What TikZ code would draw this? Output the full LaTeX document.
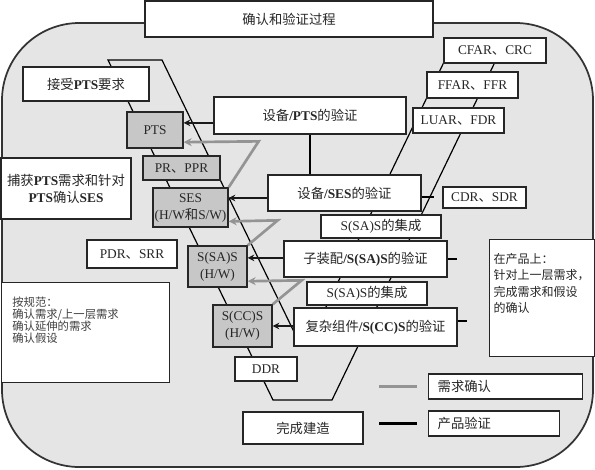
\documentclass[tikz,border=0pt]{standalone}
\usepackage{fontspec}
\setmainfont{Liberation Serif}
\newfontfamily\cjk{Noto Sans CJK SC}
\newcommand{\zh}[1]{{\cjk #1}}
\usetikzlibrary{arrows.meta}

\begin{document}
\begin{tikzpicture}[x=0.75pt,y=-0.75pt,
  wbox/.style={draw=black!85,line width=1pt,fill=white,inner sep=1pt,text=black!85,
    font=\fontsize{10}{12.75}\selectfont,align=center},
  gbox/.style={wbox,fill=black!22},
  pv/.style={line width=1.7pt,black!90,-{Stealth[length=5pt,width=5pt]}},
  rv/.style={line width=2pt,black!42,-{Stealth[length=6pt,width=6pt]}}]
\useasboundingbox (0,0) rectangle (595,469);
\draw[draw=black!80,line width=1.3pt,fill=black!10,rounded corners=58pt] (2,23) rectangle (593,467);
% the V
\draw[line width=0.9pt] (108,60)--(273,400)--(332,400)--(495,62)--(444,62)--(312,336)--(296,336)--(162,60)--cycle;

\node[wbox,minimum width=216pt,minimum height=27pt] (title) at (289,19) {\zh{确认和验证过程}};
\node[wbox,minimum width=94.5pt,minimum height=25.5pt] (accept) at (86,84) {\zh{接受}\textbf{PTS}\zh{要求}};
\node[gbox,minimum width=42pt,minimum height=27pt] (pts) at (155,130) {PTS};
\node[wbox,minimum width=144pt,minimum height=27.75pt] (vpts) at (310,115.5) {\zh{设备}\textbf{/PTS}\zh{的验证}};
\node[wbox,minimum width=76.5pt,minimum height=18.75pt] (cfar) at (495,50.5) {CFAR\zh{、}CRC};
\node[wbox,minimum width=68.25pt,minimum height=19.5pt] (ffar) at (472.5,85) {FFAR\zh{、}FFR};
\node[wbox,minimum width=68.25pt,minimum height=18.75pt] (luar) at (458.5,120.5) {LUAR\zh{、}FDR};
\node[gbox,minimum width=57.75pt,minimum height=18pt] (pr) at (181.5,168) {PR\zh{、}PPR};
\node[gbox,minimum width=56.25pt,minimum height=29.25pt] (ses) at (190.5,207.5) {SES\\(H/W\zh{和}S/W)};
\node[wbox,minimum width=97.5pt,minimum height=45.75pt] (capture) at (66,188.5) {\zh{捕获}\textbf{PTS}\zh{需求和针对}\\\textbf{PTS}\zh{确认}\textbf{SES}};
\node[wbox,minimum width=114.75pt,minimum height=27pt] (vses) at (344.5,193) {\zh{设备}\textbf{/SES}\zh{的验证}};
\node[wbox,minimum width=62.25pt,minimum height=15.75pt] (cdr) at (484.5,197.5) {CDR\zh{、}SDR};
\node[wbox,minimum width=90pt,minimum height=17.25pt] (intA) at (381,226.5) {S(SA)S\zh{的集成}};
\node[wbox,minimum width=122.25pt,minimum height=27pt] (vsas) at (365.5,259) {\zh{子装配}\textbf{/S(SA)S}\zh{的验证}};
\node[wbox,minimum width=90pt,minimum height=17.25pt] (intB) at (367,293.5) {S(SA)S\zh{的集成}};
\node[wbox,minimum width=122.25pt,minimum height=28.5pt] (vscc) at (375.5,327) {\zh{复杂组件}\textbf{/S(CC)S}\zh{的验证}};
\node[gbox,minimum width=44.25pt,minimum height=30.75pt] (sas) at (217.5,266.5) {S(SA)S\\(H/W)};
\node[wbox,minimum width=67.5pt,minimum height=21pt] (pdr) at (132,254) {PDR\zh{、}SRR};
\node[gbox,minimum width=44.25pt,minimum height=31.5pt] (scc) at (242.5,326) {S(CC)S\\(H/W)};
\node[wbox,minimum width=46.5pt,minimum height=18pt] (ddr) at (266,369) {DDR};
\node[wbox,minimum width=90pt,minimum height=24pt] (build) at (303,428) {\zh{完成建造}};
\node[wbox,anchor=north west,inner xsep=8pt,inner ysep=3pt,text=black!75] (spec) at (1,282)
  {\parbox[c][69pt][t]{110pt}{\cjk\fontsize{8.5}{9}\selectfont\vspace*{8pt}按规范：\\确认需求/上一层需求\\确认延伸的需求\\确认假设}};
\node[wbox,anchor=north west,inner sep=3pt] (onprod) at (489,239)
  {\parbox[c][81.75pt][t]{72.75pt}{\cjk\fontsize{9}{12.4}\selectfont\vspace*{7pt}在产品上：\\针对上一层需求，\\完成需求和假设\\的确认}};
\node[wbox,anchor=west,inner xsep=6.75pt,text width=102pt,align=left,minimum height=18.75pt] (lreq) at (428,386.5) {\zh{需求确认}};
\node[wbox,anchor=west,inner xsep=6.75pt,text width=84.75pt,align=left,minimum height=18.75pt] (lprod) at (428,423.5) {\zh{产品验证}};

% product verification
\draw[pv] (vpts.west |- pts.14) -- (pts.14);
\draw[pv] (vses.west |- ses.14) -- (ses.14);
\draw[pv] (vsas.west |- sas.16) -- (sas.16);
\draw[pv] (vscc.west |- scc.east) -- (scc.east);
\draw[line width=1.7pt] (vpts.south) -- (vpts.south |- vses.north);
\draw[line width=1.7pt] (vses.-3) -- ++(12,0);
\draw[line width=1.7pt] (vsas.east) -- ++(9,0);
\draw[line width=1.7pt] (vscc.4) -- ++(9,0);
% requirement validation
\draw[rv] (ses.north east) -- ++(30,-46) -- (pts.-23);
\draw[rv] (sas.north east) -- ++(30,-25) -- (ses.-20);
\draw[rv] (scc.north east) -- ++(29,-24) -- (sas.-26);
% legend
\draw[line width=2pt,black!42] (lreq.west) ++(-11,0) -- ++(-38,0);
\draw[line width=1.7pt] (lprod.west) ++(-11,0) -- ++(-38,0);
\end{tikzpicture}
\end{document}
